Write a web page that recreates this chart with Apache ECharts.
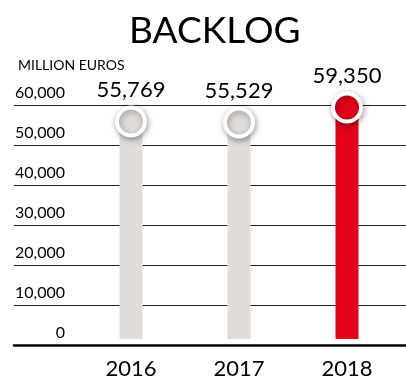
<!DOCTYPE html>
<html><head><meta charset="utf-8">
<script src="https://cdn.jsdelivr.net/npm/echarts@6/dist/echarts.min.js"></script>
<style>html,body{margin:0;padding:0;background:#fff}#c{width:406px;height:380px}</style>
</head><body><div id="c"></div>
<script>
var categories = ['2016', '2017', '2018'];
var values = [55769, 55529, 59350];
var yTicks = [0, 10000, 20000, 30000, 40000, 50000, 60000];
var titleText = 'BACKLOG';
var unitText = 'MILLION EUROS';

var GRAY = '#e0dcd9', RED = '#e2001a';
var FONT = 'Lato, "Open Sans", sans-serif';
function fmt(v){ return String(v).replace(/\B(?=(\d{3})+(?!\d))/g, ','); }
var colors = categories.map(function(c, i){ return i === categories.length - 1 ? RED : GRAY; });

var chart = echarts.init(document.getElementById('c'), null, {renderer: 'canvas'});
chart.setOption({
  animation: false,
  title: [
    {text: titleText, left: 124, top: 8, textStyle: {fontFamily: FONT, fontSize: 37, fontWeight: 'normal', color: '#000'}},
    {text: unitText, left: 13, top: 53, textStyle: {fontFamily: FONT, fontSize: 14, fontWeight: 'normal', color: '#000'}}
  ],
  grid: [
    {left: 14, right: 0, top: 105, bottom: 35},
    {left: 77, right: 5, top: 105, bottom: 35}
  ],
  xAxis: [
    {gridIndex: 0, type: 'value', min: 0, max: 1, axisLabel: {show: false}, axisTick: {show: false}, splitLine: {show: false},
     axisLine: {show: true, onZero: false, lineStyle: {color: '#000', width: 2.5}}},
    {gridIndex: 1, type: 'category', data: categories, axisLine: {show: false}, axisTick: {show: false},
     axisLabel: {fontFamily: FONT, fontSize: 22, color: '#000', margin: 19}}
  ],
  yAxis: [
    {gridIndex: 0, type: 'value', min: yTicks[0], max: yTicks[yTicks.length - 1], interval: yTicks[1] - yTicks[0],
     axisLine: {show: false}, axisTick: {show: false},
     splitLine: {show: true, lineStyle: {color: '#222', width: 1}},
     axisLabel: {inside: true, align: 'right', margin: 51, verticalAlign: 'bottom', padding: [0, 0, 4, 0],
                 fontFamily: FONT, fontSize: 16, color: '#000', formatter: function(v){ return fmt(v); }}},
    {gridIndex: 1, type: 'value', min: yTicks[0], max: yTicks[yTicks.length - 1], interval: yTicks[1] - yTicks[0], show: false}
  ],
  series: [
    {type: 'bar', xAxisIndex: 1, yAxisIndex: 1, barWidth: 23,
     data: values.map(function(v, i){ return {value: v, itemStyle: {color: colors[i]}}; })},
    {type: 'scatter', xAxisIndex: 1, yAxisIndex: 1, symbol: 'circle', symbolSize: 28, z: 5,
     data: values.map(function(v, i){ return {value: v, itemStyle: {color: colors[i]}}; }),
     itemStyle: {opacity: 1, borderColor: '#fff', borderWidth: 4, shadowBlur: 6, shadowOffsetX: 1, shadowOffsetY: 2, shadowColor: 'rgba(0,0,0,0.35)'},
     label: {show: true, position: 'top', distance: 5, fontFamily: FONT, fontSize: 22, color: '#000',
             formatter: function(p){ return fmt(p.value); }}}
  ]
});
</script></body></html>
